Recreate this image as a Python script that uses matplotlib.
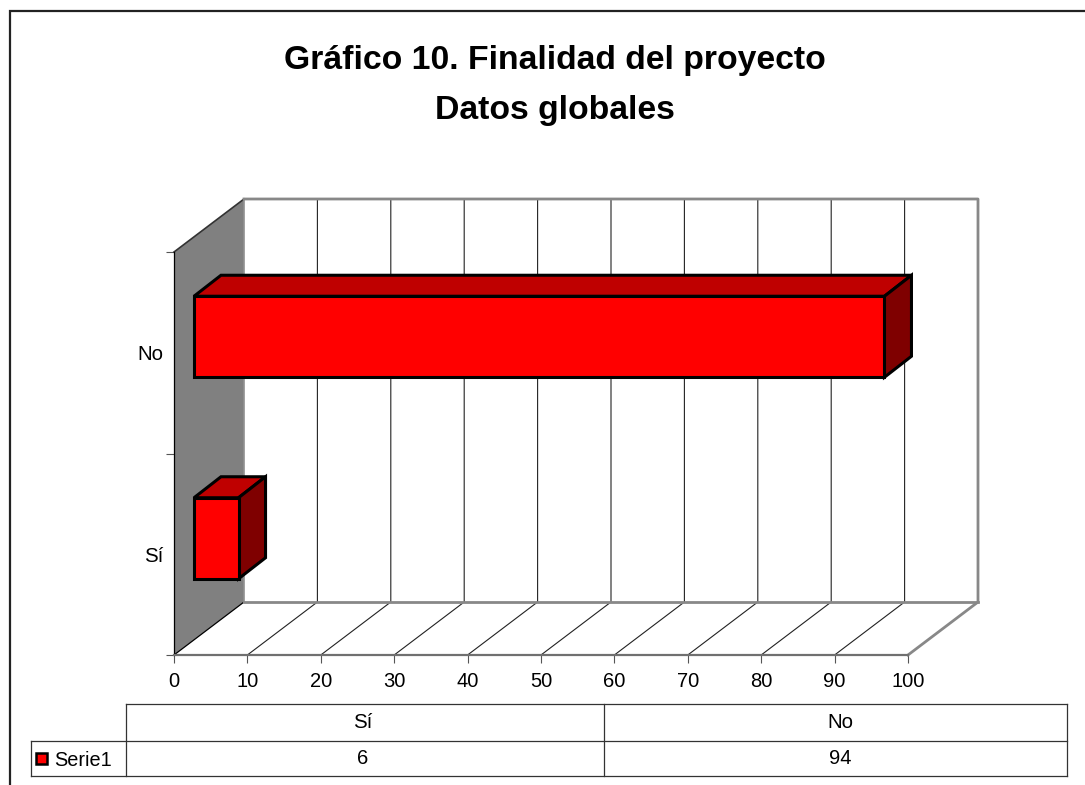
import matplotlib
matplotlib.use('Agg')
import matplotlib.pyplot as plt
from matplotlib.patches import Polygon, Rectangle

plt.rcParams['font.family'] = ['Liberation Sans', 'DejaVu Sans']

categories = ['Sí', 'No']
values = [6, 94]
series_name = 'Serie1'
x_ticks = [0, 10, 20, 30, 40, 50, 60, 70, 80, 90, 100]
title_lines = ['Gráfico 10. Finalidad del proyecto', 'Datos globales']

W, H = 1085, 785
fig = plt.figure(figsize=(W / 100, H / 100), dpi=100, facecolor='white')

# whole-figure axes in pixels for frame, title and data table
page = fig.add_axes([0, 0, 1, 1], zorder=0)
page.set_xlim(0, W)
page.set_ylim(H, 0)
page.axis('off')

page.plot([9.5, 9.5, W], [H, 11, 11], color='#222222', lw=1.6, solid_joinstyle='miter')
for line_y, txt in zip([60, 110], title_lines):
    page.text(555, line_y, txt, ha='center', va='center', fontsize=24.3,
              fontweight='bold', color='black')

# front plane of the 3D box
ax = fig.add_axes([174 / W, 1 - 655 / H, 734 / W, 403 / H], zorder=1)
ax.set_xlim(0, 100)
ax.set_ylim(0, 2)
ax.patch.set_alpha(0)
for s in ['top', 'right']:
    ax.spines[s].set_visible(False)
ax.spines['left'].set_color('black')
ax.spines['left'].set_linewidth(0.9)
ax.spines['bottom'].set_color('#707070')
ax.spines['bottom'].set_linewidth(1.6)

# depth of the box and of the bars, in data units
dx, dy = 70 / 7.34, 53 / 201.5
bar_off_x, bar_off_y = 20 / 7.34, 16 / 201.5
bar_dx, bar_dy = 27 / 7.34, 21 / 201.5
bar_h = 81 / 201.5

# side wall
ax.add_patch(Polygon([(0, 0), (dx, dy), (dx, 2 + dy), (0, 2)], closed=True,
                     fc='#808080', ec='none', clip_on=False, zorder=1))
ax.plot([0, dx], [2, 2 + dy], color='#333333', lw=1.2, clip_on=False, zorder=2)
ax.plot([0, dx], [0, dy], color='black', lw=0.9, clip_on=False, zorder=2)

# grid on floor and back wall
for t in x_ticks[1:-1]:
    ax.plot([t, t + dx, t + dx], [0, dy, 2 + dy], color='#222222', lw=0.8,
            clip_on=False, zorder=1.5)

# grey outline of back wall and floor
ax.plot([dx, dx], [dy, 2 + dy], color='#909090', lw=1.2, clip_on=False, zorder=2)
ax.plot([dx, 100 + dx, 100 + dx, 100], [2 + dy, 2 + dy, dy, 0],
        color='#888888', lw=2.0, clip_on=False, zorder=2, solid_joinstyle='round')
ax.plot([dx, 100 + dx], [dy, dy], color='#888888', lw=2.0, clip_on=False, zorder=2)

# bars
for i, v in enumerate(values):
    x0 = bar_off_x
    x1 = v + 20.5 / 7.34
    y0 = i + 0.5 + bar_off_y - bar_h / 2
    y1 = y0 + bar_h
    style = dict(ec='black', lw=2.2, joinstyle='miter', clip_on=False, zorder=3)
    ax.add_patch(Polygon([(x0, y1), (x0 + bar_dx, y1 + bar_dy), (x1 + bar_dx, y1 + bar_dy), (x1, y1)],
                         closed=True, fc='#BF0000', **style))
    ax.add_patch(Polygon([(x1, y0), (x1 + bar_dx, y0 + bar_dy), (x1 + bar_dx, y1 + bar_dy), (x1, y1)],
                         closed=True, fc='#7F0000', **style))
    ax.add_patch(Rectangle((x0, y0), x1 - x0, y1 - y0, fc='#FF0000', **style))

ax.set_xticks(x_ticks)
ax.set_yticks([0, 1, 2])
ax.set_yticks([0.5, 1.5], minor=True)
ax.set_yticklabels([])
ax.set_yticklabels(categories, minor=True)
ax.tick_params(axis='x', length=5.5, width=0.8, color='#555555', labelsize=14.5, pad=6.5)
ax.tick_params(axis='y', which='major', length=5.5, width=0.8, color='#555555')
ax.tick_params(axis='y', which='minor', length=0, labelsize=14.8, pad=7.5)

# data table under the chart
col_x = [126, 604, 1067]
row_y = [704, 741, 776]
label_x = [363, 840]
line = dict(color='#333333', lw=0.9)
page.plot([col_x[0], col_x[-1]], [row_y[0], row_y[0]], **line)
page.plot([31, col_x[-1]], [row_y[1], row_y[1]], **line)
page.plot([31, col_x[-1]], [row_y[2], row_y[2]], **line)
page.plot([31, 31], [row_y[1], row_y[2]], **line)
for x in col_x:
    page.plot([x, x], [row_y[0], row_y[2]], **line)
for xc, c, v in zip(label_x, categories, values):
    page.text(xc, 722, c, ha='center', va='center', fontsize=14.8)
    page.text(xc, 758, str(v), ha='center', va='center', fontsize=14.5)
page.add_patch(Rectangle((36, 753), 11, 11, fc='#FF0000', ec='black', lw=1.8))
page.text(54.5, 760, series_name, ha='left', va='center', fontsize=14.3)

fig.savefig('out.png', dpi=100)
